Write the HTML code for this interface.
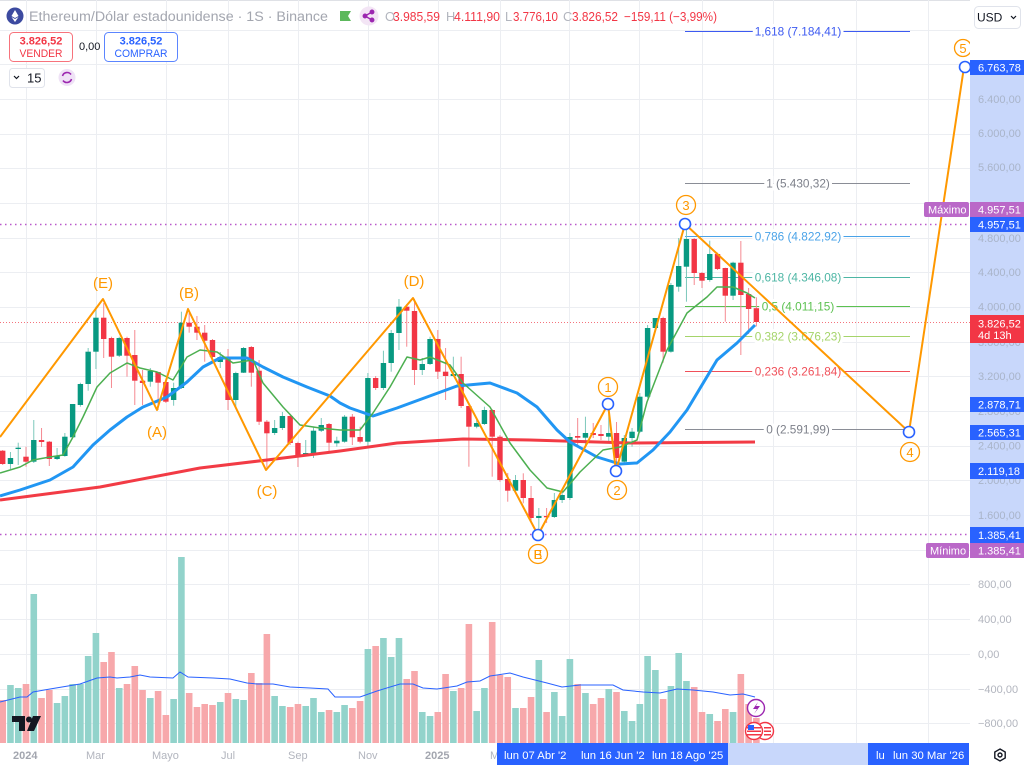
<!DOCTYPE html>
<html><head><meta charset="utf-8"><style>
html,body{margin:0;padding:0;background:#fff;width:1024px;height:766px;overflow:hidden}
svg{display:block;font-family:"Liberation Sans",Arial,sans-serif}
</style></head><body>
<svg id="s" width="1024" height="766" viewBox="0 0 1024 766" xmlns="http://www.w3.org/2000/svg">
<rect width="1024" height="766" fill="#fff"/>
<line x1="0" y1="0.5" x2="1024" y2="0.5" stroke="#dfe1e6"/>
<g id="grid" stroke="#eceef2" stroke-width="1"></g>
<g id="vol"></g>
<polyline id="vma" fill="none" stroke="#2962ff" stroke-width="1" points="0,702 20,697 27,697 33,692 50,689 80,684 97,678 110,677 117,678 130,677 140,675 150,677 173,678 180,672 188,677 213,678 230,679 247,683 257,684 273,684 290,687 310,688 328,689 335,697 360,697 377,691 400,684 413,684 423,688 437,689 457,686 467,682 480,681 490,676 497,675 510,673 523,677 547,683 562,687 580,685 613,685 623,690 643,692 660,693 677,689 693,690 713,692 730,695 743,694 755,697"/>
<!-- fib levels -->
<g font-size="11.8" text-anchor="middle" stroke-width="1">
<line x1="685" y1="31.5" x2="910" y2="31.5" stroke="#3d5af1"/>
<text x="798" y="35.5" fill="#3d5af1" stroke="#fff" stroke-width="6" paint-order="stroke">1,618 (7.184,41)</text>
<line x1="685" y1="183.5" x2="910" y2="183.5" stroke="#8a8d96"/>
<text x="798" y="187.5" fill="#7d808a" stroke="#fff" stroke-width="6" paint-order="stroke">1 (5.430,32)</text>
<line x1="685" y1="236.5" x2="910" y2="236.5" stroke="#4aa3e8"/>
<text x="798" y="240.5" fill="#4aa3e8" stroke="#fff" stroke-width="6" paint-order="stroke">0,786 (4.822,92)</text>
<line x1="685" y1="277.5" x2="910" y2="277.5" stroke="#4db6a4"/>
<text x="798" y="281.5" fill="#4db6a4" stroke="#fff" stroke-width="6" paint-order="stroke">0,618 (4.346,08)</text>
<line x1="685" y1="306.5" x2="910" y2="306.5" stroke="#5cc150"/>
<line x1="685" y1="336.5" x2="910" y2="336.5" stroke="#a5d46a"/>
<line x1="685" y1="371.5" x2="910" y2="371.5" stroke="#f0505a"/>
<text x="798" y="375.5" fill="#f0505a" stroke="#fff" stroke-width="6" paint-order="stroke">0,236 (3.261,84)</text>
<line x1="685" y1="429.5" x2="910" y2="429.5" stroke="#8a8d96"/>
<text x="798" y="433.5" fill="#7d808a" stroke="#fff" stroke-width="6" paint-order="stroke">0 (2.591,99)</text>
</g>
<!-- dotted lines -->
<line x1="0" y1="224.5" x2="970" y2="224.5" stroke="#b95acb" stroke-width="1.5" stroke-dasharray="1.5 3.5"/>
<line x1="0" y1="534.5" x2="970" y2="534.5" stroke="#b95acb" stroke-width="1.5" stroke-dasharray="1.5 3.5"/>
<line x1="0" y1="322.5" x2="970" y2="322.5" stroke="#f4737c" stroke-width="1" stroke-dasharray="1 2"/>
<g id="candles"></g>
<polyline fill="none" stroke="#f23b45" stroke-width="3" stroke-linejoin="round" points="0,500 100,487 200,468 267,460 340,451 397,443 463,439 530,440 630,443 755,442"/>
<polyline fill="none" stroke="#2196f3" stroke-width="3" stroke-linejoin="round" points="0,496 20,490 50,480 73,467 93,445 110,430 127,417 143,407 167,397 187,382 203,367 220,358 247,358 263,367 283,377 307,387 330,396 340,403 350,408 373,416 397,408 427,397 457,386 490,383 517,393 537,407 557,430 570,442 597,457 620,464 637,463 653,450 670,432 687,410 717,360 737,343 755,325"/>
<polyline fill="none" stroke="#4caf50" stroke-width="1.5" stroke-linejoin="round" points="0,473 20,467 33,460 50,457 63,455 73,437 83,417 97,387 110,373 127,363 140,368 157,372 173,380 187,357 200,350 217,352 233,363 253,360 263,383 283,407 300,425 320,428 340,430 360,430 373,413 390,387 407,357 420,360 430,357 450,365 463,383 490,407 510,443 530,470 547,488 563,492 580,472 603,450 620,447 637,440 647,402 667,350 687,313 707,297 717,287 733,287 747,293 755,298"/>
<!-- fib labels drawn over candles -->
<g font-size="11.8" text-anchor="middle">
<text x="798" y="310.5" fill="#5cc150" stroke="#fff" stroke-width="6" paint-order="stroke">0,5 (4.011,15)</text>
<text x="798" y="340.5" fill="#a5d46a" stroke="#fff" stroke-width="6" paint-order="stroke">0,382 (3.676,23)</text>
</g>
<!-- zigzag -->
<polyline fill="none" stroke="#ff9800" stroke-width="2" stroke-linejoin="round" points="0,437 103,299 157,410 188,309 266,470 413,298 538,535 608,404 616,471 685,224 909,432 964,67"/>
<g fill="#ff9800" font-size="15" text-anchor="middle">
<text x="103" y="288">(E)</text>
<text x="157" y="437">(A)</text>
<text x="189" y="298">(B)</text>
<text x="267" y="496">(C)</text>
<text x="414" y="286">(D)</text>
</g>
<g fill="none" stroke="#ff9800" stroke-width="1.3">
<circle cx="608" cy="387" r="9.5"/><circle cx="617" cy="490" r="9.5"/><circle cx="538" cy="554" r="9.5"/>
<circle cx="686" cy="205" r="9.5"/><circle cx="910" cy="452" r="9.5"/><circle cx="963" cy="48" r="8.5"/>
</g>
<g fill="#ff9800" font-size="13" text-anchor="middle">
<text x="608" y="392">1</text><text x="617" y="495">2</text><text x="538" y="559">E</text><text x="538" y="559">B</text>
<text x="686" y="210">3</text><text x="910" y="457">4</text><text x="963" y="53">5</text>
</g>
<g fill="#fff" stroke="#2962ff" stroke-width="1.6">
<circle cx="538" cy="535" r="5.5"/><circle cx="608" cy="404" r="5.5"/><circle cx="616" cy="471" r="5.5"/>
<circle cx="685" cy="224" r="5.5"/><circle cx="909" cy="432" r="5.5"/><circle cx="965" cy="67" r="5.5"/>
</g>
<!-- icons bottom -->
<circle cx="756" cy="708" r="8.5" fill="#fff" stroke="#9c27b0" stroke-width="1.4"/>
<path d="M758,702 L753,709 H757 L754,714 L760,706 H756 Z" fill="#9c27b0"/>
<circle cx="765" cy="731" r="8.5" fill="#fff" stroke="#f23645" stroke-width="1.4"/>
<circle cx="754" cy="731" r="8.5" fill="#fff" stroke="#f23645" stroke-width="1.4"/>
<g fill="#f23645"><rect x="747" y="727" width="14" height="1.5"/><rect x="747" y="730.5" width="14" height="1.5"/><rect x="747" y="734" width="14" height="1.5"/><rect x="764" y="727" width="7" height="1.5"/><rect x="764" y="730.5" width="7" height="1.5"/><rect x="764" y="734" width="7" height="1.5"/></g>
<rect x="748" y="725" width="6" height="5" fill="#2962ff"/>
<!-- TV logo -->
<g fill="#131722"><path d="M12,716 H25 V731 H19 V722 H12 Z"/><circle cx="29" cy="719.5" r="3"/><path d="M33,716 H41 L34,731 H27 Z"/></g>
<!-- right axis -->
<rect x="970" y="0" width="54" height="743" fill="#fff"/>
<rect x="970" y="60" width="54" height="484" fill="#c8d7fb"/>
<g font-size="11" fill="#a9b4c9">
<text x="978" y="103">6.400,00</text><text x="978" y="137">6.000,00</text><text x="978" y="171">5.600,00</text>
<text x="978" y="242">4.800,00</text><text x="978" y="276">4.400,00</text><text x="978" y="310.5">4.000,00</text>
<text x="978" y="346">3.600,00</text><text x="978" y="380">3.200,00</text><text x="978" y="415">2.800,00</text>
<text x="978" y="449.5">2.400,00</text><text x="978" y="484">2.000,00</text><text x="978" y="519">1.600,00</text>
</g>
<g font-size="11" fill="#b2b5be">
<text x="978" y="588">800,00</text><text x="978" y="623">400,00</text><text x="978" y="658">0,00</text>
<text x="978" y="693">−400,00</text><text x="978" y="727">−800,00</text>
</g>
<g font-size="11" fill="#fff">
<rect x="970" y="60" width="54" height="15" fill="#2962ff"/><text x="978" y="71.5">6.763,78</text>
<rect x="924" y="202" width="45" height="15" rx="2" fill="#ba68c8"/><text x="928" y="213.5">Máximo</text>
<rect x="970" y="202" width="54" height="15" fill="#ba68c8"/><text x="978" y="213.5">4.957,51</text>
<rect x="970" y="217" width="54" height="15" fill="#2962ff"/><text x="978" y="228.5">4.957,51</text>
<rect x="970" y="315" width="54" height="28" fill="#f23645"/><text x="978" y="327.5">3.826,52</text><text x="978" y="339">4d 13h</text>
<rect x="970" y="397" width="54" height="15" fill="#2962ff"/><text x="978" y="408.5">2.878,71</text>
<rect x="970" y="425" width="54" height="15" fill="#2962ff"/><text x="978" y="436.5">2.565,31</text>
<rect x="970" y="463" width="54" height="16" fill="#2962ff"/><text x="978" y="475">2.119,18</text>
<rect x="970" y="527" width="54" height="16" fill="#2962ff"/><text x="978" y="539">1.385,41</text>
<rect x="926" y="543" width="43" height="15" rx="2" fill="#ba68c8"/><text x="930" y="554.5">Mínimo</text>
<rect x="970" y="543" width="54" height="15" fill="#ba68c8"/><text x="978" y="554.5">1.385,41</text>
</g>
<!-- time axis -->
<rect x="0" y="743" width="1024" height="23" fill="#fff"/>
<g font-size="11" fill="#b2b5be">
<text x="13" y="759" font-weight="bold" fill="#a3a6af">2024</text>
<text x="86" y="759">Mar</text><text x="152" y="759">Mayo</text><text x="221" y="759">Jul</text>
<text x="288" y="759">Sep</text><text x="358" y="759">Nov</text>
<text x="425" y="759" font-weight="bold" fill="#a3a6af">2025</text>
<text x="490" y="759">M</text>
<text x="763" y="759">Nov</text><text x="843" y="759" font-weight="bold" fill="#a3a6af">2026</text>
</g>
<rect x="728" y="743" width="141" height="22" fill="#c8d7fb"/>
<rect x="497" y="743" width="231" height="22" fill="#2962ff"/>
<rect x="868" y="743" width="101" height="22" fill="#2962ff"/>
<g font-size="11.3" fill="#fff">
<text x="504" y="759">lun 07 Abr '2</text><text x="581" y="759">lun 16 Jun '2</text><text x="652" y="759">lun 18 Ago '25</text>
<text x="876" y="759">lu</text><text x="893" y="759">lun 30 Mar '26</text>
</g>
<g transform="translate(1000,755)" fill="none" stroke="#131722" stroke-width="1.4"><path d="M0,-6 L5.2,-3 V3 L0,6 L-5.2,3 V-3 Z"/><circle r="2"/></g>
<!-- header -->
<circle cx="15" cy="16" r="8.5" fill="#3c4aa0"/>
<path d="M15,10 L18.5,16 L15,18 L11.5,16 Z" fill="#fff"/><path d="M15,19 L18.5,17 L15,22 L11.5,17 Z" fill="#fff"/>
<text x="29" y="21" font-size="13.5" fill="#a3a6af" textLength="299" lengthAdjust="spacingAndGlyphs">Ethereum/Dólar estadounidense · 1S · Binance</text>
<path d="M340,11 H351 L348,16 L351,21 H340 Z" fill="#5cb85c"/>
<circle cx="369" cy="16" r="9.5" fill="#f3e5f5"/>
<g fill="#9c27b0" stroke="#9c27b0" stroke-width="1.3"><line x1="365" y1="16" x2="372" y2="12"/><line x1="365" y1="16" x2="372" y2="20"/><circle cx="365" cy="16" r="1.8"/><circle cx="372" cy="12" r="1.8"/><circle cx="372" cy="20" r="1.8"/></g>
<g font-size="12.8">
<text x="385" y="21" fill="#b2b5be">O</text><text x="393" y="21" fill="#f23645" textLength="47" lengthAdjust="spacingAndGlyphs">3.985,59</text>
<text x="446" y="21" fill="#b2b5be">H</text><text x="454" y="21" fill="#f23645" textLength="46" lengthAdjust="spacingAndGlyphs">4.111,90</text>
<text x="505" y="21" fill="#b2b5be">L</text><text x="513" y="21" fill="#f23645" textLength="45" lengthAdjust="spacingAndGlyphs">3.776,10</text>
<text x="563" y="21" fill="#b2b5be">C</text><text x="572" y="21" fill="#f23645" textLength="46" lengthAdjust="spacingAndGlyphs">3.826,52</text>
<text x="624" y="21" fill="#f23645" textLength="93" lengthAdjust="spacingAndGlyphs">−159,11 (−3,99%)</text>
</g>
<rect x="9.5" y="32.5" width="63" height="29" rx="4" fill="#fff" stroke="#f7737c"/>
<text x="41" y="44.5" font-size="11" font-weight="bold" fill="#f23645" text-anchor="middle">3.826,52</text>
<text x="41" y="57" font-size="11" fill="#f23645" text-anchor="middle" textLength="43" lengthAdjust="spacingAndGlyphs">VENDER</text>
<text x="79" y="50" font-size="11" fill="#131722">0,00</text>
<rect x="104.5" y="32.5" width="73" height="29" rx="4" fill="#fff" stroke="#5b85ff"/>
<text x="141" y="44.5" font-size="11" font-weight="bold" fill="#2962ff" text-anchor="middle">3.826,52</text>
<text x="141" y="57" font-size="11" fill="#2962ff" text-anchor="middle" textLength="53" lengthAdjust="spacingAndGlyphs">COMPRAR</text>
<rect x="9.5" y="68.5" width="35" height="19" rx="3" fill="#fff" stroke="#e0e3eb"/>
<path d="M14,76 L16.5,78.5 L19,76" fill="none" stroke="#131722" stroke-width="1.2"/>
<text x="27" y="82.5" font-size="13" fill="#131722">15</text>
<circle cx="67" cy="77.5" r="8.5" fill="#efe2f6"/>
<g fill="none" stroke="#9c27b0" stroke-width="1.6"><path d="M62.5,76 A4.8,4.8 0 0 1 71,74.5"/><path d="M71.5,79 A4.8,4.8 0 0 1 63,80.5"/></g>
<rect x="974.5" y="6.5" width="46" height="22" rx="4" fill="#fff" stroke="#e0e3eb"/>
<text x="977" y="21.5" font-size="12" fill="#131722">USD</text>
<path d="M1011,16 L1013.5,18.5 L1016,16" fill="none" stroke="#131722" stroke-width="1.2"/>
</svg>
<script>
(function(){
const NS="http://www.w3.org/2000/svg";
function el(t,a,p){const e=document.createElementNS(NS,t);for(const k in a)e.setAttribute(k,a[k]);p.appendChild(e);return e;}
const grid=document.getElementById('grid');
[26,96,166,228,298,368,438,500,569,639,702,773,856,928].forEach(x=>el('line',{x1:x+.5,x2:x+.5,y1:0,y2:743},grid));
[30,64,99,134,168,203,238,272,307,342,376,411,446,480,515,550,584,619,654,689,723].forEach(y=>el('line',{x1:0,x2:970,y1:y+.5,y2:y+.5},grid));
const C=[
[-3,450.7,464,450,465],[-2,464,458,452,469],[-1,449,447.7,442.7,465],[0,456.7,461.7,446.7,466.7],
[1,461.7,440,420,463],[2,440,442,428,447],[3,441.7,459,441,466],[4,459,455.7,448,460],
[5,456,436.7,433,456.7],[6,437.3,404,404,437.3],[7,405,384,382.7,406.7],[8,384,351.7,348,390.7],
[9,351.7,317.7,306.7,369],[10,317.7,339,303,358],[11,338,356.7,336.7,388],[12,355.7,338,336.7,357],
[13,338,355.7,336.7,376.7],[14,355,380.7,330,405],[15,380.7,383,370,405],[16,381.7,371,368,386.7],
[17,372,382.7,371.7,410],[18,382,401.7,381.7,403],[19,400,388,382.7,405.7],[20,388,322.7,311.7,389],
[21,322.7,326.7,313,332.7],[22,326.7,332.7,316,340],[23,332.7,340.7,325,361.7],[24,340,357,339,361.7],
[25,362,357,352,368],[26,356.7,400,349,410],[27,400,373,371.7,408],[28,372.7,348,347,373],
[29,347,372.7,346,386.7],[30,370.7,421.7,360,425],[31,421.7,433.3,420,469],[32,433,428,420,435],
[33,428,416,412,430],[34,416,443,415,445],[35,443,455,441.7,467],[36,455,453,440,456],
[37,454,430.7,426.7,458],[38,430.7,425,418,432],[39,424,442.7,423,453],[40,443.3,440.7,436.7,446.7],
[41,441.7,416.7,415,442.7],[42,416.7,437.3,414,445],[43,437,441.7,426.7,443.3],[44,441.7,378,373,446.7],
[45,378,388,376,390],[46,388,363,350.7,390],[47,363,333,330,371.7],[48,333,306.7,299,350],
[49,306.7,310.7,304,346.7],[50,311,370,299,385],[51,370,364,358,375],[52,364,339,336.7,365],
[53,339,371.7,330,379],[54,371.7,376,348,400],[55,376,374,356.7,376.7],[56,374,406,356.7,408],
[57,406,426.7,406,466.7],[58,426.7,423,420,428.3],[59,424,410,406.7,425],[60,410,436.7,409,476.7],
[61,436.7,480,435,481.7],[62,479,490.7,473,501.7],[63,490.7,480,475,493.3],[64,480,498,473.3,503.3],
[65,498,518,486,523],[66,518,516,508,533.6],[67,516,517,508,523],[68,517,500,493,518],
[69,500,495,490,503],[70,498,437,433,500],[71,436,437.7,418,445],[72,437.7,433,416.7,446.7],
[73,433,435,423,438],[74,434,436,425,440],[75,436.7,433,404,441.7],[76,433,458,422,470],
[77,461.7,438,435,463],[78,438,431.7,428,446.7],[79,431.7,396.7,393,433],[80,396.7,328,325,398],
[81,328,318,318,330],[82,318,351.7,316.7,362.7],[83,351.7,285,283,352.7],[84,286.7,266,238,291.7],
[85,266.7,239,224,301.7],[86,239,273,238,285],[87,273,280.7,272,288],[88,280,254,240.7,281.7],
[89,254,269,252.7,270],[90,268,295.7,267.7,321.7],[91,295.7,262.7,261.7,300],[92,262.7,295,241,355],
[93,294,309,288,334],[94,308.2,322,297.3,326.4]];
const V=[700,685,688,684,594,698,690,703,696,684,684,656,633,662,652,688,684,666,690,698,691,715,699,557,693,707,704,705,702,693,699,700,673,683,634,696,706,707,704,706,698,712,710,712,705,708,701,649,646,638,657,638,679,671,712,716,712,674,691,688,624,711,688,622,675,677,708,708,697,660,712,692,716,659,684,693,704,698,689,692,711,721,704,656,670,699,686,653,681,687,712,714,721,709,712,674,704,718];
const cg=document.getElementById('candles'), vg=document.getElementById('vol');
C.forEach((c,i)=>{
 const [k,o,cl,h,l]=c; const x=26+7.77*k; const up=cl<o;
 const col=up?'#089981':'#f23645';
 el('rect',{x:(x-3.3).toFixed(2),y:V[i],width:6.6,height:(743-V[i]).toFixed(1),fill:up?'#92d3cb':'#f7a8ab'},vg);
 el('line',{x1:x.toFixed(2),x2:x.toFixed(2),y1:h,y2:l,stroke:up?'#7cc8bb':'#f58a92','stroke-width':1},cg);
 const t=Math.min(o,cl),b=Math.max(o,cl);
 el('rect',{x:(x-2.7).toFixed(2),y:t,width:5.4,height:Math.max(1.3,b-t).toFixed(1),fill:col},cg);
});
})();
</script>
</body></html>
